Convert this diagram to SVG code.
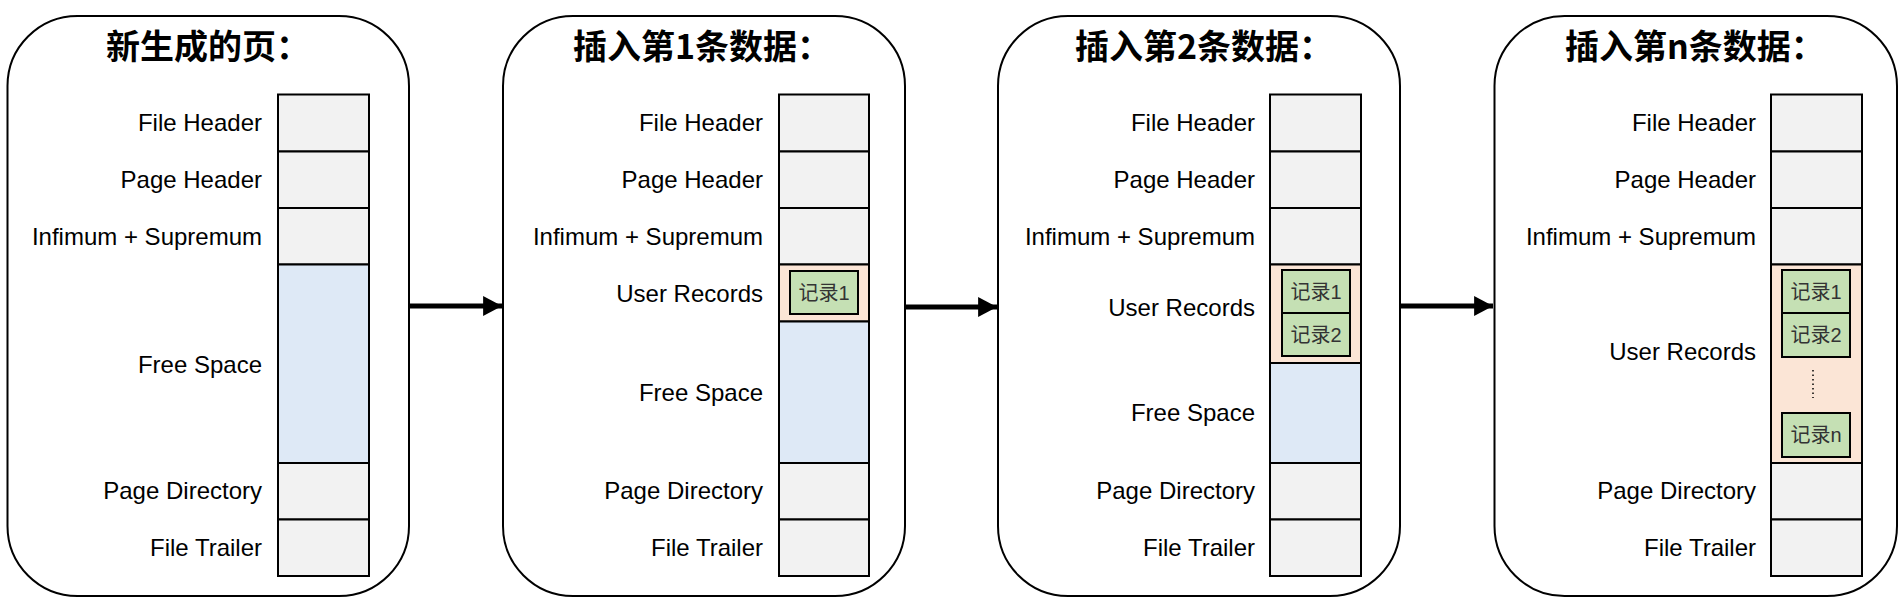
<svg xmlns="http://www.w3.org/2000/svg" width="1904" height="606" viewBox="0 0 1904 606">
<defs>
<style>
.panel{fill:#ffffff;stroke:#000;stroke-width:2}
.cell{fill:#f2f2f2;stroke:#000;stroke-width:2}
.free{fill:#dee9f6;stroke:#000;stroke-width:2}
.user{fill:#fbe5d6;stroke:#000;stroke-width:2}
.rec{fill:#c5e0b4;stroke:#000;stroke-width:2}
.lbl{font-family:"Liberation Sans",Arial,sans-serif;font-size:24px;fill:#000;text-anchor:end}
.title{font-family:"Noto Sans CJK SC",sans-serif;font-size:34px;font-weight:bold;fill:#000}
.rt{font-family:"Liberation Sans","Noto Sans CJK SC",sans-serif;font-size:20px;fill:#333;text-anchor:middle}
.arrow{stroke:#000;stroke-width:5;fill:none}
</style>
<marker id="ah" markerWidth="4" markerHeight="4" refX="3.4" refY="1.8" orient="auto" markerUnits="strokeWidth" viewBox="0 0 3.4 3.6">
<path d="M0,0 L3.4,1.8 L0,3.6 Z" fill="#000"/>
</marker>
</defs>

<g id="page-new">
<rect class="panel" x="7.5" y="16" width="401.5" height="580" rx="70" ry="70"/>
<text class="title" x="106" y="59">新生成的页：</text>
<rect class="cell" x="278" y="94.5" width="91" height="57"/>
<rect class="cell" x="278" y="151.5" width="91" height="56.5"/>
<rect class="cell" x="278" y="208" width="91" height="56.5"/>
<rect class="free" x="278" y="264.5" width="91" height="198.5"/>
<rect class="cell" x="278" y="463" width="91" height="56.5"/>
<rect class="cell" x="278" y="519.5" width="91" height="56.5"/>
<text class="lbl" x="262" y="131">File Header</text>
<text class="lbl" x="262" y="188">Page Header</text>
<text class="lbl" x="262" y="244.5">Infimum + Supremum</text>
<text class="lbl" x="262" y="372.5">Free Space</text>
<text class="lbl" x="262" y="499">Page Directory</text>
<text class="lbl" x="262" y="556">File Trailer</text>
</g>

<g id="page-insert-1">
<rect class="panel" x="503" y="16" width="402" height="580" rx="70" ry="70"/>
<text class="title" x="573" y="59">插入第1条数据：</text>
<rect class="cell" x="779" y="94.5" width="90" height="57"/>
<rect class="cell" x="779" y="151.5" width="90" height="56.5"/>
<rect class="cell" x="779" y="208" width="90" height="56.5"/>
<rect class="user" x="779" y="264.5" width="90" height="57"/>
<rect class="rec" x="790" y="271" width="68" height="43"/>
<text class="rt" x="824" y="299.5">记录1</text>
<rect class="free" x="779" y="321.5" width="90" height="141.5"/>
<rect class="cell" x="779" y="463" width="90" height="56.5"/>
<rect class="cell" x="779" y="519.5" width="90" height="56.5"/>
<text class="lbl" x="763" y="131">File Header</text>
<text class="lbl" x="763" y="188">Page Header</text>
<text class="lbl" x="763" y="244.5">Infimum + Supremum</text>
<text class="lbl" x="763" y="301.5">User Records</text>
<text class="lbl" x="763" y="400.5">Free Space</text>
<text class="lbl" x="763" y="499">Page Directory</text>
<text class="lbl" x="763" y="556">File Trailer</text>
</g>

<g id="page-insert-2">
<rect class="panel" x="998" y="16" width="402" height="580" rx="70" ry="70"/>
<text class="title" x="1075" y="59">插入第2条数据：</text>
<rect class="cell" x="1270" y="94.5" width="91" height="57"/>
<rect class="cell" x="1270" y="151.5" width="91" height="56.5"/>
<rect class="cell" x="1270" y="208" width="91" height="56.5"/>
<rect class="user" x="1270" y="264.5" width="91" height="98.5"/>
<rect class="rec" x="1282" y="270" width="68" height="43"/>
<text class="rt" x="1316" y="298.5">记录1</text>
<rect class="rec" x="1282" y="313" width="68" height="43"/>
<text class="rt" x="1316" y="341.5">记录2</text>
<rect class="free" x="1270" y="363" width="91" height="100"/>
<rect class="cell" x="1270" y="463" width="91" height="56.5"/>
<rect class="cell" x="1270" y="519.5" width="91" height="56.5"/>
<text class="lbl" x="1255" y="131">File Header</text>
<text class="lbl" x="1255" y="188">Page Header</text>
<text class="lbl" x="1255" y="244.5">Infimum + Supremum</text>
<text class="lbl" x="1255" y="315.5">User Records</text>
<text class="lbl" x="1255" y="420.5">Free Space</text>
<text class="lbl" x="1255" y="499">Page Directory</text>
<text class="lbl" x="1255" y="556">File Trailer</text>
</g>

<g id="page-insert-n">
<rect class="panel" x="1494.5" y="16" width="402.5" height="580" rx="70" ry="70"/>
<text class="title" x="1565" y="59">插入第n条数据：</text>
<rect class="cell" x="1771" y="94.5" width="91" height="57"/>
<rect class="cell" x="1771" y="151.5" width="91" height="56.5"/>
<rect class="cell" x="1771" y="208" width="91" height="56.5"/>
<rect class="user" x="1771" y="264.5" width="91" height="198.5"/>
<rect class="rec" x="1782" y="270" width="68" height="43"/>
<text class="rt" x="1816" y="298.5">记录1</text>
<rect class="rec" x="1782" y="313" width="68" height="44"/>
<text class="rt" x="1816" y="341.5">记录2</text>
<line x1="1813" y1="370" x2="1813" y2="398" stroke="#000" stroke-width="1.5" stroke-dasharray="1.5,3"/>
<rect class="rec" x="1782" y="413" width="68" height="44"/>
<text class="rt" x="1816" y="441.5">记录n</text>
<rect class="cell" x="1771" y="463" width="91" height="56.5"/>
<rect class="cell" x="1771" y="519.5" width="91" height="56.5"/>
<text class="lbl" x="1756" y="131">File Header</text>
<text class="lbl" x="1756" y="188">Page Header</text>
<text class="lbl" x="1756" y="244.5">Infimum + Supremum</text>
<text class="lbl" x="1756" y="359.5">User Records</text>
<text class="lbl" x="1756" y="499">Page Directory</text>
<text class="lbl" x="1756" y="556">File Trailer</text>
</g>

<g id="connectors">
<line class="arrow" x1="410" y1="306" x2="502" y2="306" marker-end="url(#ah)"/>
<line class="arrow" x1="906" y1="307" x2="997" y2="307" marker-end="url(#ah)"/>
<line class="arrow" x1="1401" y1="306" x2="1493" y2="306" marker-end="url(#ah)"/>
</g>
</svg>
